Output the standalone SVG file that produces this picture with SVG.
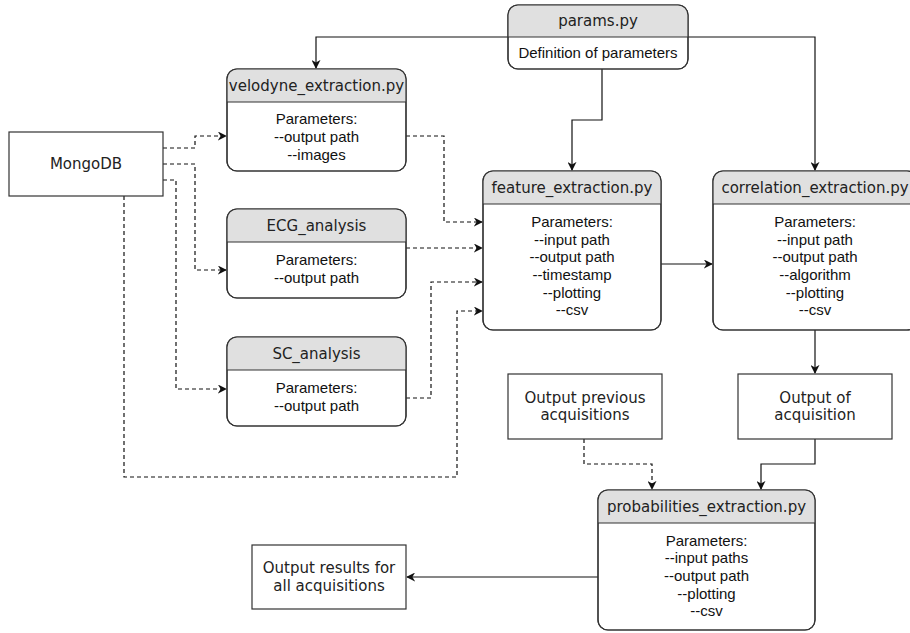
<svg xmlns="http://www.w3.org/2000/svg" width="910" height="633" viewBox="0 0 910 633">
  <style>
    .box { fill: #ffffff; stroke: #333333; stroke-width: 1.2; }
    .hdr { fill: #e0e0e0; stroke: none; }
    .sep { stroke: #333333; stroke-width: 1.2; }
    .frame { fill: none; stroke: #333333; stroke-width: 1.2; }
    .title { font-family: "DejaVu Sans", Verdana, sans-serif; font-size: 15px; fill: #222222; text-anchor: middle; }
    .body { font-family: "Liberation Sans", Arial, sans-serif; font-size: 15px; fill: #111111; text-anchor: middle; }
    .solid { fill: none; stroke: #111111; stroke-width: 1.2; }
    .dash { fill: none; stroke: #111111; stroke-width: 1.2; stroke-dasharray: 4 3; }
  </style>
  <defs>
    <marker id="arrow" viewBox="0 0 10 10" refX="9" refY="5" markerWidth="9" markerHeight="9" markerUnits="userSpaceOnUse" orient="auto">
      <path d="M0,0 L10,5 L0,10 L3,5 Z" fill="#111111"/>
    </marker>
  </defs>

  <!-- connectors -->
  <g id="connectors">
    <!-- params.py fan-out -->
    <path class="solid" d="M508,37 H316 V68" marker-end="url(#arrow)"/>
    <path class="solid" d="M688,37 H815 V170" marker-end="url(#arrow)"/>
    <path class="solid" d="M602,69 V120 H572 V170" marker-end="url(#arrow)"/>
    <!-- MongoDB to extraction scripts -->
    <path class="dash" d="M163,148 H195 V136 H226" marker-end="url(#arrow)"/>
    <path class="dash" d="M163,164 H195 V270 H226" marker-end="url(#arrow)"/>
    <path class="dash" d="M163,180 H176 V389 H226" marker-end="url(#arrow)"/>
    <path class="dash" d="M124,196 V477 H457 V311 H482" marker-end="url(#arrow)"/>
    <!-- scripts to feature_extraction -->
    <path class="dash" d="M406,136 H444 V222 H482" marker-end="url(#arrow)"/>
    <path class="dash" d="M406,248 H482" marker-end="url(#arrow)"/>
    <path class="dash" d="M406,398 H431 V282 H482" marker-end="url(#arrow)"/>
    <!-- main pipeline -->
    <path class="solid" d="M661,264 H712" marker-end="url(#arrow)"/>
    <path class="solid" d="M815,330 V373" marker-end="url(#arrow)"/>
    <path class="dash" d="M584,439 V464 H652 V489" marker-end="url(#arrow)"/>
    <path class="solid" d="M815,439 V464 H761 V489" marker-end="url(#arrow)"/>
    <path class="solid" d="M598,577 H407" marker-end="url(#arrow)"/>
  </g>

  <!-- params.py -->
  <g id="params">
    <rect class="box" x="508" y="5" width="180" height="64" rx="10"/>
    <path class="hdr" d="M508,37 V15 A10,10 0 0 1 518,5 H678 A10,10 0 0 1 688,15 V37 Z"/>
    <line class="sep" x1="508" y1="37" x2="688" y2="37"/>
    <rect class="frame" x="508" y="5" width="180" height="64" rx="10"/>
    <text class="title" x="598" y="26">params.py</text>
    <text class="body" x="598" y="58">Definition of parameters</text>
  </g>

  <!-- velodyne_extraction.py -->
  <g id="velodyne">
    <rect class="box" x="227" y="69" width="179" height="102" rx="10"/>
    <path class="hdr" d="M227,102 V79 A10,10 0 0 1 237,69 H396 A10,10 0 0 1 406,79 V102 Z"/>
    <line class="sep" x1="227" y1="102" x2="406" y2="102"/>
    <rect class="frame" x="227" y="69" width="179" height="102" rx="10"/>
    <text class="title" x="316.5" y="91">velodyne_extraction.py</text>
    <text class="body" x="316.5" y="124">Parameters:</text>
    <text class="body" x="316.5" y="142">--output path</text>
    <text class="body" x="316.5" y="160">--images</text>
  </g>

  <!-- MongoDB -->
  <g id="mongodb">
    <rect class="box" x="9" y="132" width="154" height="64"/>
    <text class="title" x="86" y="169">MongoDB</text>
  </g>

  <!-- ECG_analysis -->
  <g id="ecg">
    <rect class="box" x="227" y="209" width="179" height="89" rx="10"/>
    <path class="hdr" d="M227,242 V219 A10,10 0 0 1 237,209 H396 A10,10 0 0 1 406,219 V242 Z"/>
    <line class="sep" x1="227" y1="242" x2="406" y2="242"/>
    <rect class="frame" x="227" y="209" width="179" height="89" rx="10"/>
    <text class="title" x="316.5" y="231">ECG_analysis</text>
    <text class="body" x="316.5" y="265">Parameters:</text>
    <text class="body" x="316.5" y="283">--output path</text>
  </g>

  <!-- SC_analysis -->
  <g id="sc">
    <rect class="box" x="227" y="337" width="179" height="89" rx="10"/>
    <path class="hdr" d="M227,370 V347 A10,10 0 0 1 237,337 H396 A10,10 0 0 1 406,347 V370 Z"/>
    <line class="sep" x1="227" y1="370" x2="406" y2="370"/>
    <rect class="frame" x="227" y="337" width="179" height="89" rx="10"/>
    <text class="title" x="316.5" y="359">SC_analysis</text>
    <text class="body" x="316.5" y="393">Parameters:</text>
    <text class="body" x="316.5" y="411">--output path</text>
  </g>

  <!-- feature_extraction.py -->
  <g id="feature">
    <rect class="box" x="483" y="171" width="178" height="159" rx="10"/>
    <path class="hdr" d="M483,204 V181 A10,10 0 0 1 493,171 H651 A10,10 0 0 1 661,181 V204 Z"/>
    <line class="sep" x1="483" y1="204" x2="661" y2="204"/>
    <rect class="frame" x="483" y="171" width="178" height="159" rx="10"/>
    <text class="title" x="572" y="193">feature_extraction.py</text>
    <text class="body" x="572" y="227">Parameters:</text>
    <text class="body" x="572" y="245">--input path</text>
    <text class="body" x="572" y="262">--output path</text>
    <text class="body" x="572" y="280">--timestamp</text>
    <text class="body" x="572" y="298">--plotting</text>
    <text class="body" x="572" y="315">--csv</text>
  </g>

  <!-- correlation_extraction.py -->
  <g id="correlation">
    <rect class="box" x="713" y="171" width="204" height="159" rx="10"/>
    <path class="hdr" d="M713,204 V181 A10,10 0 0 1 723,171 H907 A10,10 0 0 1 917,181 V204 Z"/>
    <line class="sep" x1="713" y1="204" x2="917" y2="204"/>
    <rect class="frame" x="713" y="171" width="204" height="159" rx="10"/>
    <text class="title" x="815" y="193">correlation_extraction.py</text>
    <text class="body" x="815" y="227">Parameters:</text>
    <text class="body" x="815" y="245">--input path</text>
    <text class="body" x="815" y="262">--output path</text>
    <text class="body" x="815" y="280">--algorithm</text>
    <text class="body" x="815" y="298">--plotting</text>
    <text class="body" x="815" y="315">--csv</text>
  </g>

  <!-- Output previous acquisitions -->
  <g id="output-previous">
    <rect class="box" x="508" y="374" width="154" height="65"/>
    <text class="title" x="585" y="403">Output previous</text>
    <text class="title" x="585" y="420">acquisitions</text>
  </g>

  <!-- Output of acquisition -->
  <g id="output-acquisition">
    <rect class="box" x="738" y="374" width="154" height="65"/>
    <text class="title" x="815" y="403">Output of</text>
    <text class="title" x="815" y="420">acquisition</text>
  </g>

  <!-- probabilities_extraction.py -->
  <g id="probabilities">
    <rect class="box" x="598" y="490" width="217" height="140" rx="10"/>
    <path class="hdr" d="M598,523 V500 A10,10 0 0 1 608,490 H805 A10,10 0 0 1 815,500 V523 Z"/>
    <line class="sep" x1="598" y1="523" x2="815" y2="523"/>
    <rect class="frame" x="598" y="490" width="217" height="140" rx="10"/>
    <text class="title" x="706.5" y="512">probabilities_extraction.py</text>
    <text class="body" x="706.5" y="546">Parameters:</text>
    <text class="body" x="706.5" y="563">--input paths</text>
    <text class="body" x="706.5" y="581">--output path</text>
    <text class="body" x="706.5" y="599">--plotting</text>
    <text class="body" x="706.5" y="616">--csv</text>
  </g>

  <!-- Output results for all acquisitions -->
  <g id="output-results">
    <rect class="box" x="252" y="545" width="154" height="64"/>
    <text class="title" x="329" y="573">Output results for</text>
    <text class="title" x="329" y="591">all acquisitions</text>
  </g>
</svg>
